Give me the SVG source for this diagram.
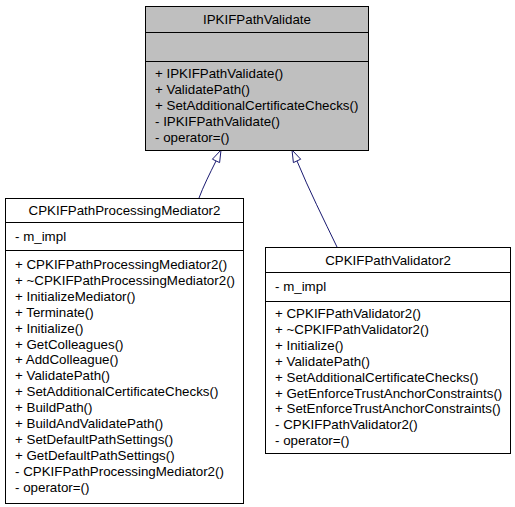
<svg xmlns="http://www.w3.org/2000/svg" width="515" height="507" viewBox="0 0 515 507">
<style>
text{font-family:"Liberation Sans",Arial,Helvetica,sans-serif;font-size:13.33px;fill:#000}
.t{text-anchor:middle}
.box{fill:#fff;stroke:#000;stroke-width:1}
.base{fill:#bfbfbf;stroke:#000;stroke-width:1}
.sep{stroke:#000;stroke-width:1}
.edge{fill:none;stroke:#191970;stroke-width:1}
.head{fill:#fff;stroke:#191970;stroke-width:1}
</style>
<rect width="515" height="507" fill="#fff"/>
<g id="connectors">
<path class="edge" d="M199,198 C203,187 210,173 216,161"/>
<polygon class="head" points="221,150 219.6,162.6 212.4,159.2"/>
<path class="edge" d="M337,247 C324,220 309,190 297,161"/>
<polygon class="head" points="292,150 300.7,159.2 293.4,162.6"/>
</g>
<g id="node-IPKIFPathValidate">
<rect class="base" x="145.5" y="6.5" width="223" height="144"/>
<line class="sep" x1="145.5" y1="32.5" x2="368.5" y2="32.5"/>
<line class="sep" x1="145.5" y1="61.5" x2="368.5" y2="61.5"/>
<text class="t" x="257" y="23.5">IPKIFPathValidate</text>
<text x="155" y="78">+ IPKIFPathValidate()</text>
<text x="155" y="93.9">+ ValidatePath()</text>
<text x="155" y="109.8">+ SetAdditionalCertificateChecks()</text>
<text x="155" y="125.7">- IPKIFPathValidate()</text>
<text x="155" y="141.6">- operator=()</text>
</g>
<g id="node-CPKIFPathProcessingMediator2">
<rect class="box" x="5.5" y="198.5" width="238" height="305"/>
<line class="sep" x1="5.5" y1="222.5" x2="243.5" y2="222.5"/>
<line class="sep" x1="5.5" y1="250.5" x2="243.5" y2="250.5"/>
<text class="t" x="124.5" y="215">CPKIFPathProcessingMediator2</text>
<text x="15" y="241">- m_impl</text>
<text x="15" y="269">+ CPKIFPathProcessingMediator2()</text>
<text x="15" y="284.9">+ ~CPKIFPathProcessingMediator2()</text>
<text x="15" y="300.8">+ InitializeMediator()</text>
<text x="15" y="316.7">+ Terminate()</text>
<text x="15" y="332.6">+ Initialize()</text>
<text x="15" y="348.5">+ GetColleagues()</text>
<text x="15" y="364.4">+ AddColleague()</text>
<text x="15" y="380.3">+ ValidatePath()</text>
<text x="15" y="396.2">+ SetAdditionalCertificateChecks()</text>
<text x="15" y="412.1">+ BuildPath()</text>
<text x="15" y="428">+ BuildAndValidatePath()</text>
<text x="15" y="443.9">+ SetDefaultPathSettings()</text>
<text x="15" y="459.8">+ GetDefaultPathSettings()</text>
<text x="15" y="475.7">- CPKIFPathProcessingMediator2()</text>
<text x="15" y="491.6">- operator=()</text>
</g>
<g id="node-CPKIFPathValidator2">
<rect class="box" x="265.5" y="247.5" width="245" height="206"/>
<line class="sep" x1="265.5" y1="272.5" x2="510.5" y2="272.5"/>
<line class="sep" x1="265.5" y1="301.5" x2="510.5" y2="301.5"/>
<text class="t" x="388" y="264.5">CPKIFPathValidator2</text>
<text x="275" y="291">- m_impl</text>
<text x="275" y="318">+ CPKIFPathValidator2()</text>
<text x="275" y="333.9">+ ~CPKIFPathValidator2()</text>
<text x="275" y="349.8">+ Initialize()</text>
<text x="275" y="365.7">+ ValidatePath()</text>
<text x="275" y="381.6">+ SetAdditionalCertificateChecks()</text>
<text x="275" y="397.5">+ GetEnforceTrustAnchorConstraints()</text>
<text x="275" y="413.4">+ SetEnforceTrustAnchorConstraints()</text>
<text x="275" y="429.3">- CPKIFPathValidator2()</text>
<text x="275" y="445.2">- operator=()</text>
</g>
</svg>
